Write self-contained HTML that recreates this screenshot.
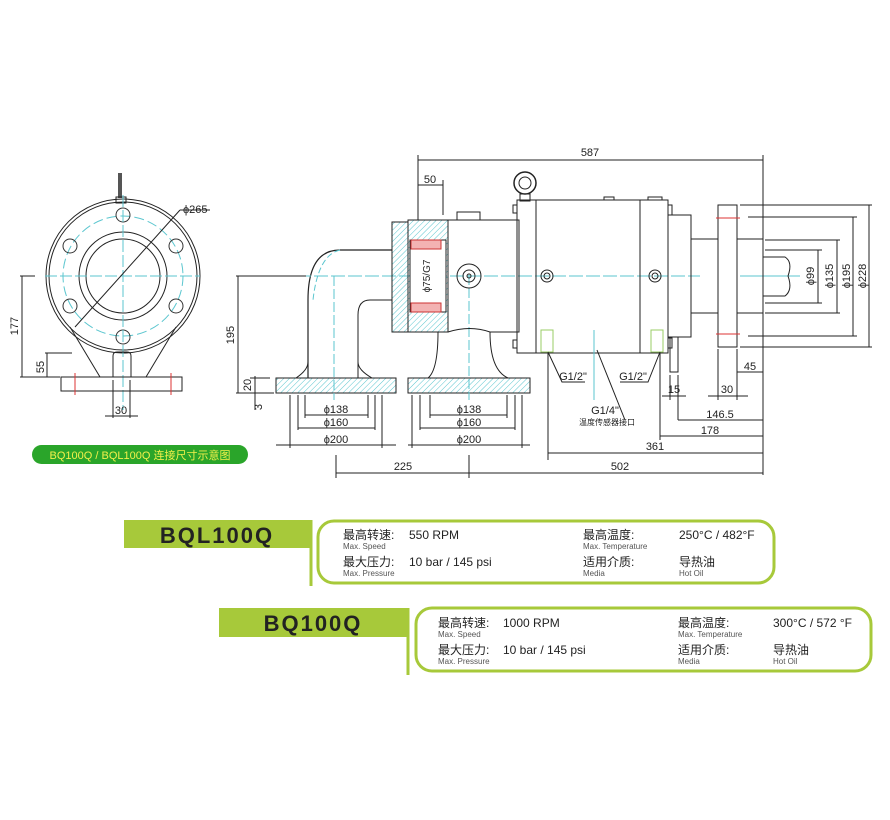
<!DOCTYPE html>
<html><head><meta charset="utf-8"><style>
body{margin:0;background:#fff;width:890px;height:820px;overflow:hidden}
svg{display:block}
.t{font-family:"Liberation Sans","Noto Sans CJK SC",sans-serif}
</style></head><body>
<svg width="890" height="820" viewBox="0 0 890 820" xmlns="http://www.w3.org/2000/svg">
<defs>
<pattern id="h" width="4" height="4" patternUnits="userSpaceOnUse" patternTransform="rotate(45)"><line x1="0" y1="0" x2="0" y2="4" stroke="#5bc6cf" stroke-width="1"/></pattern>
</defs>
<g fill="none" stroke="#222" stroke-width="1">
<!-- LEFT VIEW -->
<line x1="120" y1="173" x2="120" y2="198" stroke-width="4" stroke="#555"/>
<rect x="116" y="197" width="10" height="6"/>
<circle cx="123" cy="276" r="77"/>
<circle cx="123" cy="276" r="74"/>
<circle cx="123" cy="276" r="60" stroke="#5bc6cf" stroke-dasharray="10 4"/>
<circle cx="123" cy="276" r="44"/>
<circle cx="123" cy="276" r="37"/>
<g stroke="#333">
<circle cx="123" cy="215" r="7"/><circle cx="70" cy="246" r="7"/><circle cx="176" cy="246" r="7"/>
<circle cx="70" cy="306" r="7"/><circle cx="176" cy="306" r="7"/><circle cx="123" cy="337" r="7"/>
</g>
<line x1="45" y1="276" x2="200" y2="276" stroke="#5bc6cf" stroke-dasharray="12 3"/>
<line x1="123" y1="195" x2="123" y2="410" stroke="#5bc6cf" stroke-dasharray="12 3"/>
<line x1="75" y1="327" x2="180" y2="210"/>
<line x1="180" y1="210" x2="210" y2="210"/>
<line x1="70" y1="327" x2="100" y2="377"/><line x1="176" y1="327" x2="146" y2="377"/>
<path d="M113 377 V356 Q113 352 117 352 H127 Q131 352 131 356 V377"/>
<path d="M61 377 H182 V391 H61 Z"/>
<line x1="75" y1="373" x2="75" y2="395" stroke="#d33"/><line x1="171" y1="373" x2="171" y2="395" stroke="#d33"/>
<line x1="20" y1="276" x2="35" y2="276"/><line x1="20" y1="377" x2="60" y2="377"/>
<line x1="22" y1="276" x2="22" y2="377"/>
<line x1="45" y1="353" x2="72" y2="353"/><line x1="47" y1="353" x2="47" y2="377"/>
<line x1="113" y1="380" x2="113" y2="418"/><line x1="130" y1="380" x2="130" y2="418"/>
<line x1="105" y1="416" x2="138" y2="416"/>
<!-- SIDE VIEW -->
<line x1="418" y1="160" x2="763" y2="160"/>
<line x1="418" y1="155" x2="418" y2="220"/>
<line x1="763" y1="155" x2="763" y2="475"/>
<line x1="418" y1="185" x2="443" y2="185"/><line x1="443" y1="180" x2="443" y2="215"/>
<!-- elbow -->
<path d="M392 250 H340 Q308 250 308 300 V378" stroke-width="1.2"/>
<path d="M392 300 H370 Q358 300 358 315 V378"/>
<path d="M340 250 Q318 255 313 300" stroke="#5bc6cf" stroke-dasharray="6 3"/>
<path d="M276 378 H396 V393 H276 Z" fill="url(#h)"/>
<path d="M296 378 Q308 370 308 362 M358 362 Q358 370 372 378"/>
<path d="M408 378 H530 V393 H408 Z" fill="url(#h)"/>
<path d="M428 378 Q438 370 438 332 M490 332 Q490 370 508 378"/>
<line x1="334" y1="276" x2="334" y2="400" stroke="#5bc6cf" stroke-dasharray="10 3"/>
<line x1="469" y1="275" x2="469" y2="400" stroke="#5bc6cf" stroke-dasharray="10 3"/>
<line x1="280" y1="276" x2="700" y2="276" stroke="#5bc6cf" stroke-dasharray="14 3"/>
<line x1="740" y1="276" x2="800" y2="276" stroke="#5bc6cf"/>
<!-- cap & housing -->
<rect x="392" y="222" width="16" height="110" fill="url(#h)"/>
<rect x="408" y="220" width="40" height="112" fill="url(#h)"/>
<rect x="410" y="240" width="36" height="72" fill="#fff"/>
<rect x="411" y="240" width="30" height="9" fill="#f3b3b3" stroke="#c33"/>
<rect x="411" y="303" width="30" height="9" fill="#f3b3b3" stroke="#c33"/>
<path d="M448 220 H519 V332 H490 Q470 325 448 332"/>
<rect x="457" y="212" width="23" height="8"/>
<circle cx="469" cy="276" r="12"/><circle cx="469" cy="276" r="6"/><circle cx="469" cy="276" r="2"/>
<!-- eye bolt -->
<circle cx="525" cy="183" r="11" stroke-width="1.5"/><circle cx="525" cy="183" r="6"/>
<rect x="520" y="194" width="10" height="7"/>
<rect x="517" y="200" width="19" height="153"/>
<rect x="513" y="205" width="4" height="8"/><rect x="513" y="340" width="4" height="8"/>
<rect x="536" y="200" width="132" height="153"/>
<line x1="640" y1="200" x2="640" y2="353"/>
<rect x="604" y="197" width="10" height="3"/><rect x="648" y="197" width="14" height="3"/>
<rect x="668" y="205" width="4" height="10"/><rect x="668" y="338" width="4" height="10"/>
<circle cx="547" cy="276" r="6"/><circle cx="547" cy="276" r="3"/>
<circle cx="655" cy="276" r="6"/><circle cx="655" cy="276" r="3"/>
<rect x="541" y="330" width="12" height="22" stroke="#9c6"/><rect x="651" y="330" width="12" height="22" stroke="#9c6"/>
<rect x="668" y="215" width="23" height="122"/>
<rect x="670" y="337" width="8" height="35"/>
<rect x="691" y="239" width="72" height="74"/>
<rect x="718" y="205" width="19" height="142" fill="#fff"/>
<line x1="716" y1="218" x2="740" y2="218" stroke="#d33"/><line x1="716" y1="334" x2="740" y2="334" stroke="#d33"/>
<path d="M763 257 H785 Q793 262 788 276 Q793 290 785 296 H763"/>
<line x1="594" y1="330" x2="594" y2="400" stroke="#5bc6cf"/>
<!-- leaders -->
<path d="M548 352 L562 382 H585"/><path d="M660 352 L648 382 H620"/>
<path d="M597 350 L625 420"/>
<!-- right dims -->
<line x1="765" y1="250" x2="822" y2="250"/><line x1="765" y1="303" x2="822" y2="303"/><line x1="818" y1="250" x2="818" y2="303"/>
<line x1="765" y1="240" x2="840" y2="240"/><line x1="765" y1="313" x2="840" y2="313"/><line x1="837" y1="240" x2="837" y2="313"/>
<line x1="748" y1="217" x2="857" y2="217"/><line x1="748" y1="336" x2="857" y2="336"/><line x1="853" y1="217" x2="853" y2="336"/>
<line x1="740" y1="205" x2="872" y2="205"/><line x1="740" y1="347" x2="872" y2="347"/><line x1="869" y1="205" x2="869" y2="347"/>
<!-- bottom dims -->
<line x1="718" y1="349" x2="718" y2="400"/><line x1="737" y1="349" x2="737" y2="400"/>
<line x1="737" y1="372" x2="763" y2="372"/>
<line x1="708" y1="396" x2="748" y2="396"/>
<line x1="670" y1="375" x2="670" y2="400"/><line x1="678" y1="375" x2="678" y2="420"/>
<line x1="662" y1="396" x2="686" y2="396"/>
<line x1="678" y1="420" x2="763" y2="420"/>
<line x1="660" y1="353" x2="660" y2="440"/><line x1="660" y1="436" x2="763" y2="436"/>
<line x1="548" y1="353" x2="548" y2="460"/><line x1="548" y1="453" x2="763" y2="453"/>
<line x1="290" y1="395" x2="290" y2="448"/><line x1="382" y1="395" x2="382" y2="448"/>
<line x1="298" y1="395" x2="298" y2="430"/><line x1="375" y1="395" x2="375" y2="430"/>
<line x1="305" y1="395" x2="305" y2="418"/><line x1="368" y1="395" x2="368" y2="418"/>
<line x1="305" y1="415" x2="368" y2="415"/><line x1="298" y1="428" x2="375" y2="428"/><line x1="276" y1="445" x2="396" y2="445"/>
<line x1="412" y1="395" x2="412" y2="448"/><line x1="522" y1="395" x2="522" y2="448"/>
<line x1="420" y1="395" x2="420" y2="430"/><line x1="515" y1="395" x2="515" y2="430"/>
<line x1="430" y1="395" x2="430" y2="418"/><line x1="507" y1="395" x2="507" y2="418"/>
<line x1="430" y1="415" x2="507" y2="415"/><line x1="420" y1="428" x2="515" y2="428"/><line x1="408" y1="445" x2="530" y2="445"/>
<line x1="336" y1="455" x2="336" y2="478"/><line x1="469" y1="455" x2="469" y2="478"/>
<line x1="336" y1="473" x2="763" y2="473"/>
<line x1="236" y1="276" x2="306" y2="276"/><line x1="236" y1="393" x2="274" y2="393"/>
<line x1="238" y1="276" x2="238" y2="393"/>
<line x1="255" y1="376" x2="255" y2="410"/><line x1="250" y1="378" x2="270" y2="378"/>
</g>
<g class="t" font-size="11" fill="#222" style="font-family:'Liberation Sans Narrow','Liberation Sans',sans-serif">
<text x="590" y="156" text-anchor="middle">587</text>
<text x="430" y="183" text-anchor="middle">50</text>
<text x="183" y="213">ϕ265</text>
<text x="18" y="326" transform="rotate(-90 18 326)" text-anchor="middle">177</text>
<text x="44" y="367" transform="rotate(-90 44 367)" text-anchor="middle">55</text>
<text x="121" y="414" text-anchor="middle">30</text>
<text x="234" y="335" transform="rotate(-90 234 335)" text-anchor="middle">195</text>
<text x="251" y="385" transform="rotate(-90 251 385)" text-anchor="middle">20</text>
<text x="262" y="407" transform="rotate(-90 262 407)" text-anchor="middle">3</text>
<text x="336" y="413" text-anchor="middle">ϕ138</text><text x="336" y="426" text-anchor="middle">ϕ160</text><text x="336" y="443" text-anchor="middle">ϕ200</text>
<text x="469" y="413" text-anchor="middle">ϕ138</text><text x="469" y="426" text-anchor="middle">ϕ160</text><text x="469" y="443" text-anchor="middle">ϕ200</text>
<text x="403" y="470" text-anchor="middle">225</text><text x="620" y="470" text-anchor="middle">502</text>
<text x="655" y="450" text-anchor="middle">361</text><text x="710" y="434" text-anchor="middle">178</text><text x="720" y="418" text-anchor="middle">146.5</text>
<text x="674" y="393" text-anchor="middle">15</text><text x="727" y="393" text-anchor="middle">30</text><text x="750" y="370" text-anchor="middle">45</text>
<text x="573" y="380" text-anchor="middle">G1/2"</text><text x="633" y="380" text-anchor="middle">G1/2"</text>
<text x="605" y="414" text-anchor="middle">G1/4"</text>
<text x="607" y="425" text-anchor="middle" font-size="8" style="font-family:'Noto Sans CJK SC',sans-serif">温度传感器接口</text>
<text x="430" y="276" transform="rotate(-90 430 276)" text-anchor="middle" font-size="10">ϕ75/G7</text>
<text x="814" y="276" transform="rotate(-90 814 276)" text-anchor="middle">ϕ99</text>
<text x="833" y="276" transform="rotate(-90 833 276)" text-anchor="middle">ϕ135</text>
<text x="850" y="276" transform="rotate(-90 850 276)" text-anchor="middle">ϕ195</text>
<text x="866" y="276" transform="rotate(-90 866 276)" text-anchor="middle">ϕ228</text>
</g>
<!-- green label -->
<rect x="32" y="445" width="216" height="19" rx="9.5" fill="#2aa52a"/>
<text x="140" y="459" text-anchor="middle" class="t" font-size="11" fill="#f2f04a">BQ100Q / BQL100Q 连接尺寸示意图</text>
<!-- spec BQL100Q -->
<rect x="124" y="520" width="186" height="28" fill="#a7c93a"/>
<line x1="311" y1="520" x2="311" y2="586" stroke="#a7c93a" stroke-width="3"/>
<rect x="318" y="521" width="456" height="62" rx="16" fill="none" stroke="#a7c93a" stroke-width="3"/>
<text x="217" y="543" text-anchor="middle" class="t" font-size="22" font-weight="bold" fill="#222" letter-spacing="2">BQL100Q</text>
<g class="t" fill="#222">
<text x="343" y="539" font-size="12">最高转速:</text><text x="343" y="549" font-size="8" fill="#555">Max. Speed</text>
<text x="409" y="539" font-size="12">550 RPM</text>
<text x="343" y="566" font-size="12">最大压力:</text><text x="343" y="576" font-size="8" fill="#555">Max. Pressure</text>
<text x="409" y="566" font-size="12">10 bar / 145 psi</text>
<text x="583" y="539" font-size="12">最高温度:</text><text x="583" y="549" font-size="8" fill="#555">Max. Temperature</text>
<text x="679" y="539" font-size="12">250°C / 482°F</text>
<text x="583" y="566" font-size="12">适用介质:</text><text x="583" y="576" font-size="8" fill="#555">Media</text>
<text x="679" y="566" font-size="12">导热油</text><text x="679" y="576" font-size="8" fill="#555">Hot Oil</text>
</g>
<!-- spec BQ100Q -->
<rect x="219" y="608" width="189" height="29" fill="#a7c93a"/>
<line x1="408" y1="608" x2="408" y2="675" stroke="#a7c93a" stroke-width="3"/>
<rect x="416" y="608" width="455" height="63" rx="16" fill="none" stroke="#a7c93a" stroke-width="3"/>
<text x="313" y="631" text-anchor="middle" class="t" font-size="22" font-weight="bold" fill="#222" letter-spacing="2">BQ100Q</text>
<g class="t" fill="#222">
<text x="438" y="627" font-size="12">最高转速:</text><text x="438" y="637" font-size="8" fill="#555">Max. Speed</text>
<text x="503" y="627" font-size="12">1000 RPM</text>
<text x="438" y="654" font-size="12">最大压力:</text><text x="438" y="664" font-size="8" fill="#555">Max. Pressure</text>
<text x="503" y="654" font-size="12">10 bar / 145 psi</text>
<text x="678" y="627" font-size="12">最高温度:</text><text x="678" y="637" font-size="8" fill="#555">Max. Temperature</text>
<text x="773" y="627" font-size="12">300°C / 572 °F</text>
<text x="678" y="654" font-size="12">适用介质:</text><text x="678" y="664" font-size="8" fill="#555">Media</text>
<text x="773" y="654" font-size="12">导热油</text><text x="773" y="664" font-size="8" fill="#555">Hot Oil</text>
</g>
</svg>
</body></html>
